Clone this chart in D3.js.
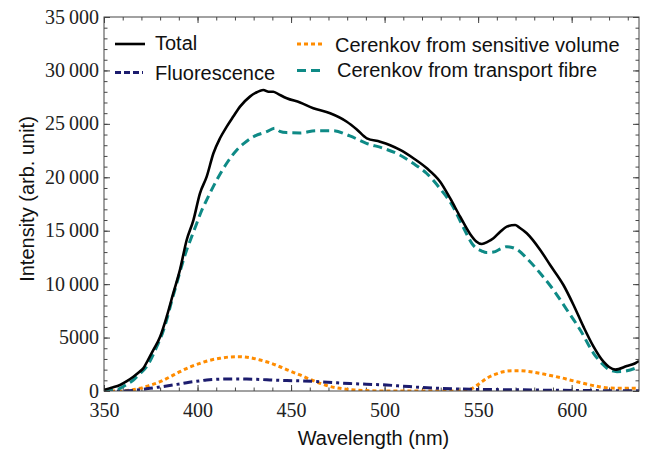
<!DOCTYPE html>
<html>
<head>
<meta charset="utf-8">
<script src="https://cdn.jsdelivr.net/npm/d3@7"></script>
<style>
  body { margin: 0; background: #fff; }
  svg { display: block; }
  .axis path { display: none; }
  .axis line { stroke: #444; stroke-width: 1; }
  .title, .legend text { font-family: "Liberation Sans", Arial, sans-serif; font-size: 20px; fill: #111; }
</style>
</head>
<body>
<svg id="chart" width="645" height="452"></svg>
<script>
// wavelength (nm), intensity (arb. unit)
const total = [
  [350, 100], [354, 300], [358.6, 560], [362, 900], [365.7, 1340], [369, 1800], [371, 2120],
  [373.5, 2900], [376.4, 3840], [380, 5080], [383.5, 6950], [387, 9140], [390.6, 11330],
  [394.2, 14130], [397.8, 16000], [401.3, 18500], [404.9, 20060], [408.5, 22250], [412, 23650],
  [415.6, 24740], [419.1, 25680], [422.7, 26610], [428, 27550], [431, 27900], [435.2, 28170],
  [438, 28000], [440.5, 28010], [443, 27800], [447.7, 27400], [454.8, 27000], [461.9, 26460],
  [470.9, 25990], [479.8, 25200], [485, 24500], [490.5, 23650], [497.6, 23330], [503, 23000],
  [508.3, 22560], [515.4, 21780], [522.6, 20840], [529.7, 19590], [535, 18040], [540.4, 16310],
  [545.7, 14700], [549, 14000], [552, 13760], [555, 13950], [558.2, 14290], [561.8, 14900],
  [565.3, 15380], [569.8, 15540], [572, 15300], [576, 14760], [583.2, 13200], [588.5, 11790],
  [595.6, 9920], [601, 8050], [606.3, 6020], [611.7, 4150], [617, 2740], [620, 2250],
  [623.3, 2000], [629.5, 2340], [634, 2600], [636, 2800]
];
const fluorescence = [
  [350, 0], [358.6, 0], [366, 60], [370, 140], [374.6, 250], [379, 360], [383.5, 470], [389, 620],
  [394.2, 780], [399.5, 910], [404.9, 1030], [410, 1090], [415.6, 1120], [421, 1130], [426.3, 1120],
  [431.6, 1090], [437, 1050], [442.4, 1010], [447.7, 980], [454.8, 950], [465.5, 870], [472.6, 790],
  [481.4, 700], [490.3, 640], [501, 560], [510, 450], [518.8, 340], [530, 250], [545.7, 160],
  [560, 130], [572, 110], [590, 70], [610, 40], [636, 20]
];
const cerenkovVolume = [
  [350, 0], [358.6, 0], [364, 80], [369.2, 250], [374, 500], [380, 870], [385, 1300], [390.6, 1810],
  [396, 2250], [401.3, 2590], [406, 2850], [412, 3060], [417, 3180], [422.7, 3210], [428, 3120],
  [433.4, 2900], [439, 2620], [444.1, 2270], [449, 1900], [454.8, 1500], [460, 1100], [465.5, 720],
  [471, 420], [476, 250], [484, 100], [492, 30], [500, 0], [540, 0], [545.7, 160], [550, 600],
  [554.6, 1190], [559, 1550], [563.5, 1810], [568, 1890], [572.4, 1900], [577, 1830], [581.3, 1710],
  [585.7, 1560], [590.2, 1400], [594.6, 1230], [599, 1030], [603.5, 840], [607.9, 650], [612.3, 480],
  [616.7, 340], [621, 270], [625.6, 250], [636, 250]
];
const cerenkovFibre = [
  [350, 0], [354, 60], [358.6, 250], [362, 600], [365.7, 1030], [369, 1600], [372.8, 2270],
  [375.5, 3100], [378.2, 4150], [381, 5300], [383.5, 6650], [386, 8300], [388.9, 10080],
  [391.5, 11700], [394.2, 13200], [397, 14500], [399.6, 15700], [402, 16800], [404.9, 17880],
  [410.3, 19750], [415.6, 21310], [421, 22560], [425, 23200], [429.9, 23800], [437, 24270],
  [441.4, 24590], [444, 24300], [447.6, 24180], [454.8, 24150], [463.6, 24360], [472.5, 24360],
  [481.4, 23870], [490.3, 23180], [499.2, 22720], [508.1, 22090], [515.2, 21310], [522.4, 20380],
  [529.5, 18970], [536.6, 17250], [541.9, 15380], [547.3, 13660], [552, 13100], [554.4, 12950],
  [558.2, 13000], [562, 13300], [565.3, 13510], [570.6, 13260], [576, 12420], [583.2, 11020],
  [590.3, 9450], [597.5, 7580], [604.6, 5710], [611.7, 3530], [617, 2430], [620, 2000],
  [624.2, 1810], [628, 1850], [631.3, 1970], [636, 2270]
];

const xTicks = [350, 400, 450, 500, 550, 600];
const yTicks = [0, 5000, 10000, 15000, 20000, 25000, 30000, 35000];

const seriesNames = ['Total', 'Fluorescence', 'Cerenkov from sensitive volume', 'Cerenkov from transport fibre'];

const svg = d3.select('#chart');
const margin = { top: 17, right: 6, bottom: 61, left: 104 };
const width = 645 - margin.left - margin.right;
const height = 452 - margin.top - margin.bottom;

const x = d3.scaleLinear().domain([350, 636]).range([0, width]);
const y = d3.scaleLinear().domain([0, 35000]).range([height, 0]);

const g = svg.append('g').attr('transform', `translate(${margin.left},${margin.top})`);

g.append('clipPath').attr('id', 'clip')
  .append('rect').attr('width', width).attr('height', height);

const fmt = v => (v >= 10000 ? d3.format('d')(Math.floor(v / 1000)) + '\u2009' + '000' : String(v));
const serif = '"Liberation Serif", "Times New Roman", serif';

const xMinor = d3.range(350, 637, 10);
const yMinor = d3.range(0, 35001, 1000);

// minor ticks on all four sides
g.append('g').attr('class', 'axis').attr('transform', `translate(0,${height})`)
  .call(d3.axisBottom(x).tickValues(xMinor).tickSize(-3.5).tickFormat(''));
g.append('g').attr('class', 'axis')
  .call(d3.axisTop(x).tickValues(xMinor).tickSize(-3.5).tickFormat(''));
g.append('g').attr('class', 'axis')
  .call(d3.axisLeft(y).tickValues(yMinor).tickSize(-3.5).tickFormat(''));
g.append('g').attr('class', 'axis').attr('transform', `translate(${width},0)`)
  .call(d3.axisRight(y).tickValues(yMinor).tickSize(-3.5).tickFormat(''));

// major ticks
const xAxisG = g.append('g').attr('class', 'axis').attr('transform', `translate(0,${height})`)
  .call(d3.axisBottom(x).tickValues(xTicks).tickSizeInner(-6).tickFormat(d3.format('d')));
xAxisG.selectAll('text')
  .attr('dy', '0.71em').attr('y', 12)
  .style('font-family', serif).style('font-size', '20px').style('fill', '#222');

g.append('g').attr('class', 'axis')
  .call(d3.axisTop(x).tickValues(xTicks).tickSize(-6).tickFormat(''));

const yAxisG = g.append('g').attr('class', 'axis')
  .call(d3.axisLeft(y).tickValues(yTicks).tickSizeInner(-6).tickFormat(fmt));
yAxisG.selectAll('text')
  .attr('x', -5).attr('dy', '0.3em')
  .style('font-family', serif).style('font-size', '20px').style('fill', '#222');

g.append('g').attr('class', 'axis').attr('transform', `translate(${width},0)`)
  .call(d3.axisRight(y).tickValues(yTicks).tickSize(-6).tickFormat(''));

const line = d3.line().x(d => x(d[0])).y(d => y(d[1])).curve(d3.curveMonotoneX);

const styles = [
  { data: total, color: '#000000', width: 2.6, dash: null },
  { data: fluorescence, color: '#1c1c6e', width: 3, dash: '9,4,3,4' },
  { data: cerenkovVolume, color: '#ff8c00', width: 3, dash: '4,3' },
  { data: cerenkovFibre, color: '#0e8a86', width: 3, dash: '9,5' }
];

const plot = g.append('g').attr('clip-path', 'url(#clip)');
[styles[2], styles[1], styles[3], styles[0]].forEach(s => {
  plot.append('path')
    .datum(s.data)
    .attr('d', line)
    .attr('fill', 'none')
    .attr('stroke', s.color)
    .attr('stroke-width', s.width)
    .attr('stroke-dasharray', s.dash)
    .attr('stroke-linejoin', 'round');
});

// frame
g.append('rect')
  .attr('width', width).attr('height', height)
  .attr('fill', 'none').attr('stroke', '#444').attr('stroke-width', 1);

// legend
const legendPos = [
  { lx: 11, ly: 27, tx: 51, ty: 33 },
  { lx: 11, ly: 55.5, tx: 51, ty: 63 },
  { lx: 193, ly: 27, tx: 231, ty: 34.5 },
  { lx: 193, ly: 53.5, tx: 233, ty: 59.5 }
];
const legend = g.append('g').attr('class', 'legend');
seriesNames.forEach((name, i) => {
  const p = legendPos[i];
  const s = styles[i];
  legend.append('line')
    .attr('x1', p.lx).attr('x2', p.lx + (i === 0 ? 30 : 28))
    .attr('y1', p.ly).attr('y2', p.ly)
    .attr('stroke', s.color)
    .attr('stroke-width', s.width)
    .attr('stroke-dasharray', i === 1 ? '6,3' : s.dash);
  legend.append('text').attr('x', p.tx).attr('y', p.ty).text(name);
});

// axis titles
svg.append('text').attr('class', 'title')
  .attr('x', margin.left + width / 2 + 2).attr('y', 445)
  .attr('text-anchor', 'middle')
  .text('Wavelength (nm)');
svg.append('text').attr('class', 'title')
  .attr('transform', 'translate(34,199) rotate(-90)')
  .attr('text-anchor', 'middle')
  .text('Intensity (arb. unit)');
</script>
</body>
</html>
